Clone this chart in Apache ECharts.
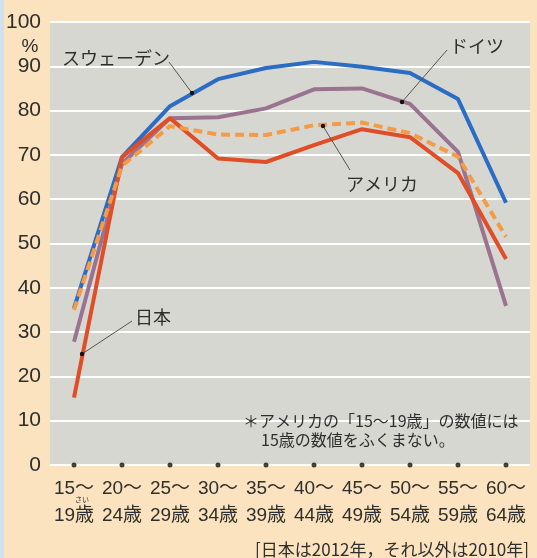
<!DOCTYPE html>
<html><head><meta charset="utf-8">
<script src="https://cdn.jsdelivr.net/npm/echarts@6/dist/echarts.min.js"></script>
<style>html,body{margin:0;padding:0;background:#fbe3bf;}#c{width:537px;height:558px;}</style>
</head><body><div id="c"></div>
<script>
const categories = ['15〜\n19歳','20〜\n24歳','25〜\n29歳','30〜\n34歳','35〜\n39歳','40〜\n44歳','45〜\n49歳','50〜\n54歳','55〜\n59歳','60〜\n64歳'];
const sweden  = [35.4, 69.5, 81.0, 87.1, 89.6, 91.0, 89.9, 88.5, 82.6, 59.2];
const germany = [27.8, 68.0, 78.3, 78.5, 80.5, 84.8, 85.0, 81.5, 70.7, 35.9];
const usa     = [35.0, 67.5, 76.5, 74.6, 74.5, 76.7, 77.3, 74.9, 69.6, 51.5];
const japan   = [15.2, 69.5, 78.3, 69.2, 68.4, 72.2, 75.8, 74.0, 65.9, 46.5];
const axisDots = [0,0,0,0,0,0,0,0,0,0];
const yTicks = [0,10,20,30,40,50,60,70,80,90,100];

const NARROW = '"Liberation Sans Narrow","Liberation Sans","Noto Sans CJK JP",sans-serif';
const JP = '"Noto Sans CJK JP",sans-serif';
const TXT = '#2e2e2e';

const chart = echarts.init(document.getElementById('c'), null, {renderer:'canvas'});
function lbl(text, x, y, size, align){
  return {type:'text', x:x, y:y, z:100, style:{text:text, fill:TXT, font: size+'px '+JP, align:align||'left', verticalAlign:'middle', textAlign:align||'left', textVerticalAlign:'middle'}};
}
function leader(x1,y1,x2,y2){
  return [{type:'line', z:100, shape:{x1:x1,y1:y1,x2:x2,y2:y2}, style:{stroke:'#555', lineWidth:1}},
          {type:'circle', z:101, shape:{cx:x2, cy:y2, r:2.2}, style:{fill:'#111'}}];
}
const option = {
  backgroundColor:'#fbe3bf',
  animation:false,
  grid:{left:50, right:7, top:22, bottom:93, backgroundColor:'#d7d7d1', show:true, borderWidth:0},
  xAxis:{type:'category', data:categories, boundaryGap:true,
    axisLine:{show:false}, axisTick:{show:false}, splitLine:{show:false},
    axisLabel:{interval:0, margin:10, color:TXT, fontSize:19, lineHeight:27, fontFamily:NARROW}},
  yAxis:{type:'value', min:0, max:100, interval:10,
    axisLine:{show:false}, axisTick:{show:false},
    splitLine:{lineStyle:{color:'#ffffff', width:2}},
    axisLabel:{margin:9, color:TXT, fontSize:21, fontFamily:NARROW}},
  series:[
    {name:'スウェーデン', type:'line', data:sweden, symbol:'none', z:2, lineStyle:{color:'#2b6cc4', width:4}},
    {name:'ドイツ', type:'line', data:germany, symbol:'none', z:3, lineStyle:{color:'#9a7391', width:4}},
    {name:'日本', type:'line', data:japan, symbol:'none', z:4, lineStyle:{color:'#e04e28', width:4}},
    {name:'アメリカ', type:'line', data:usa, symbol:'none', z:5, lineStyle:{color:'#f59a45', width:4, type:[9,5]}},
    {name:'dots', type:'scatter', data:axisDots, symbol:'circle', symbolSize:5, z:6, clip:false, itemStyle:{color:'#111'}, silent:true}
  ],
  graphic:[
    {type:'rect', z:-1, shape:{x:0,y:0,width:4,height:558}, style:{fill:'#cfe2ee'}},
    {type:'text', x:30, y:47, z:100, style:{text:'%', fill:TXT, font:'19px '+NARROW, align:'center', verticalAlign:'middle', textAlign:'center', textVerticalAlign:'middle'}},
    lbl('スウェーデン', 62, 58, 18),
    ...leader(169, 62, 192, 93),
    lbl('ドイツ', 450, 46, 18),
    ...leader(447, 50, 402, 102),
    lbl('アメリカ', 346, 184, 18),
    ...leader(350, 170, 323, 126),
    lbl('日本', 135, 317, 18),
    ...leader(132, 321, 82, 354),
    lbl('＊アメリカの「15〜19歳」の数値には', 243, 421, 16),
    lbl('15歳の数値をふくまない。', 261, 440, 16),
    {type:'text', x:82, y:499, z:100, style:{text:'さい', fill:TXT, font:'7px '+JP, align:'center', verticalAlign:'middle', textAlign:'center', textVerticalAlign:'middle'}},
    lbl('[日本は2012年，それ以外は2010年]', 529, 550, 17, 'right')
  ]
};
chart.setOption(option);
</script></body></html>
